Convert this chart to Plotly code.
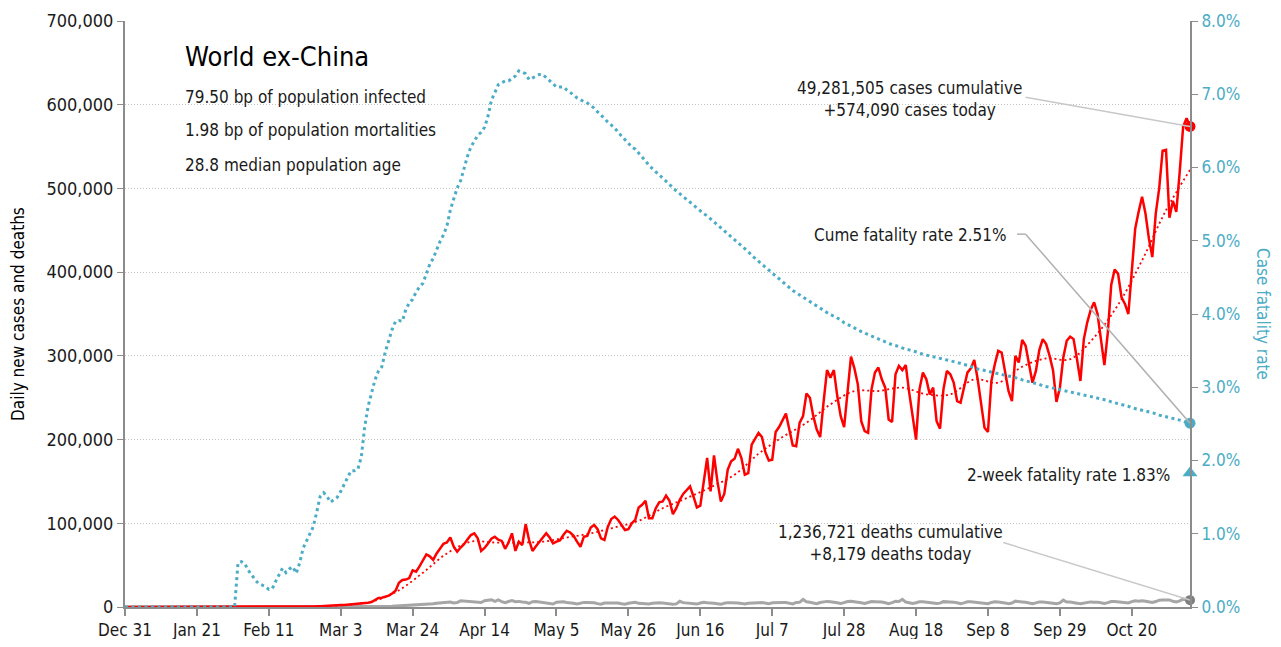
import pandas as pd
import plotly.graph_objects as go

# daily new cases, world ex-China, Dec 31 2019 .. Nov 6 2020
new_cases = [
    0, 0, 0, 0, 0, 0, 0,
    0, 0, 0, 0, 0, 0, 1,
    0, 1, 0, 1, 0, 0, 1,
    2, 1, 5, 3, 8, 10, 6,
    12, 9, 15, 18, 14, 20, 11,
    16, 19, 52, 24, 35, 40, 28,
    30, 22, 210, 45, 80, 95, 110,
    120, 160, 230, 380, 420, 610, 760,
    880, 1020, 1350, 1470, 1720, 1980, 1900,
    2300, 2400, 2750, 3700, 3900, 3950, 4050,
    4300, 5000, 5900, 8800, 10800, 11000, 11900,
    13600, 16200, 19500, 29000, 32200, 32800, 34500,
    43800, 42200, 48500, 55000, 62800, 60500, 56300,
    64000, 70500, 75500, 77000, 83000, 72000, 66000,
    71000, 75000, 80500, 86000, 88000, 82000, 67000,
    70500, 76000, 81500, 84000, 80500, 79000, 69500,
    77000, 88000, 67000, 78000, 74000, 99000, 80000,
    67000, 72500, 78000, 83500, 88000, 83000, 76000,
    78000, 79500, 86000, 91000, 89000, 85000, 78000,
    72000, 84000, 85000, 95000, 98000, 93000, 82000,
    80000, 96000, 105000, 108000, 104000, 98000, 92000,
    93000, 100000, 104000, 119000, 122000, 127000, 106000,
    106000, 118000, 125000, 126000, 133000, 127000, 111000,
    118000, 128000, 135000, 140000, 144000, 132000, 119000,
    121000, 150000, 178000, 138000, 181000, 150000, 126000,
    135000, 164000, 174000, 177000, 189000, 178000, 158000,
    160000, 194000, 201000, 208000, 203000, 185000, 175000,
    176000, 209000, 215000, 223000, 231000, 212000, 193000,
    192000, 220000, 228000, 255000, 250000, 228000, 212000,
    203000, 245000, 283000, 274000, 283000, 252000, 228000,
    215000, 262000, 299000, 285000, 266000, 222000, 210000,
    208000, 260000, 280000, 286000, 272000, 262000, 224000,
    221000, 278000, 288000, 283000, 289000, 256000, 228000,
    200000, 260000, 280000, 272000, 254000, 262000, 222000,
    213000, 260000, 282000, 278000, 268000, 246000, 244000,
    262000, 280000, 285000, 295000, 272000, 240000, 214000,
    209000, 270000, 290000, 306000, 304000, 280000, 258000,
    246000, 300000, 292000, 319000, 312000, 292000, 268000,
    282000, 307000, 320000, 314000, 300000, 283000, 245000,
    262000, 298000, 318000, 323000, 320000, 296000, 270000,
    320000, 340000, 355000, 364000, 350000, 318000, 289000,
    328000, 385000, 403000, 398000, 370000, 362000, 350000,
    400000, 452000, 472000, 490000, 470000, 440000, 418000,
    470000, 500000, 545000, 546000, 465000, 485000, 472000,
    520000, 574000, 584000, 574090,
]

new_deaths = [
    0, 0, 0, 0, 0, 0, 0,
    0, 0, 0, 0, 0, 0, 0,
    0, 0, 0, 0, 0, 0, 0,
    0, 0, 0, 0, 0, 0, 0,
    0, 0, 0, 0, 0, 1, 0,
    0, 0, 0, 0, 0, 0, 0,
    0, 0, 0, 1, 0, 0, 0,
    0, 1, 2, 2, 4, 4, 10,
    8, 12, 10, 14, 17, 20, 25,
    38, 50, 60, 75, 95, 120, 210,
    230, 300, 350, 450, 400, 550, 700,
    800, 900, 1100, 1300, 1600, 1700, 1800,
    2300, 2600, 2800, 3500, 3500, 3300, 3800,
    4500, 4900, 5500, 6100, 5900, 4900, 5300,
    7400, 6900, 7000, 6800, 6200, 5600, 5300,
    7500, 7800, 8700, 6800, 8600, 6400, 5100,
    6600, 7600, 6400, 6700, 5900, 5600, 4400,
    6300, 6500, 6000, 5300, 5100, 4800, 3600,
    5700, 6300, 6200, 5500, 5400, 4500, 3700,
    4500, 5500, 5300, 5300, 5000, 4000, 3300,
    4800, 5000, 5200, 5200, 4800, 4000, 3400,
    4400, 4800, 5600, 4400, 4000, 3000, 3500,
    4500, 5100, 5000, 4800, 4400, 3800, 3200,
    3700, 6800, 5200, 4800, 4500, 4000, 3500,
    4700, 5700, 5100, 5000, 4600, 3900, 3200,
    4400, 5200, 5000, 5200, 4800, 4300, 3500,
    4500, 5000, 5200, 5200, 5300, 4100, 3800,
    5100, 5500, 5700, 5500, 5300, 4600, 3700,
    5500, 5600, 9000, 6200, 5700, 4700, 4000,
    5400, 6300, 6700, 6200, 6000, 5000, 4100,
    5500, 6600, 6800, 6400, 6100, 5000, 4200,
    5300, 6500, 6300, 6200, 6000, 5000, 4000,
    5200, 6800, 6600, 9200, 5900, 5000, 4300,
    5000, 6200, 6400, 6200, 5700, 4900, 4200,
    4600, 6400, 6300, 6000, 5800, 5000, 4000,
    4900, 6300, 6400, 6000, 5300, 4700, 3900,
    4000, 5500, 6200, 5900, 5800, 4900, 3900,
    4700, 7000, 6200, 6100, 5600, 4600, 3800,
    4900, 6100, 6000, 5800, 5300, 4600, 3900,
    4800, 8200, 5900, 5900, 5600, 4600, 3800,
    4500, 6000, 6100, 5700, 5800, 5000, 4300,
    5200, 6600, 6600, 6200, 6000, 5300, 4800,
    6400, 7400, 7000, 7500, 6800, 5800, 5300,
    6500, 8200, 8400, 8500, 8500, 6800, 6000,
    7300, 9400, 9100, 8179,
]

# cumulative case fatality rate, %
cfr_pct = [
    0, 0, 0, 0, 0, 0, 0,
    0, 0, 0, 0, 0, 0, 0,
    0, 0, 0, 0, 0, 0, 0,
    0, 0, 0, 0, 0, 0, 0,
    0, 0, 0, 0, 0, 0.60, 0.62,
    0.59, 0.50, 0.44, 0.37, 0.32, 0.30, 0.28,
    0.24, 0.25, 0.35, 0.45, 0.53, 0.47, 0.52,
    0.55, 0.46, 0.60, 0.80, 0.90, 1.01, 1.10,
    1.30, 1.51, 1.56, 1.51, 1.43, 1.47, 1.50,
    1.58, 1.68, 1.77, 1.86, 1.86, 1.88, 2.05,
    2.46, 2.74, 2.92, 3.10, 3.22, 3.28, 3.48,
    3.65, 3.79, 3.90, 3.91, 3.90, 4.06, 4.15,
    4.20, 4.30, 4.37, 4.42, 4.55, 4.68, 4.76,
    4.88, 4.99, 5.08, 5.20, 5.42, 5.58, 5.72,
    5.82, 6.00, 6.15, 6.28, 6.36, 6.44, 6.48,
    6.55, 6.70, 6.92, 7.02, 7.13, 7.16, 7.18,
    7.18, 7.22, 7.25, 7.32, 7.30, 7.28, 7.20,
    7.22, 7.25, 7.27, 7.27, 7.23, 7.18, 7.14,
    7.10, 7.10, 7.10, 7.06, 7.03, 6.99, 6.95,
    6.92, 6.90, 6.88, 6.85, 6.81, 6.76, 6.72,
    6.67, 6.62, 6.58, 6.54, 6.48, 6.43, 6.38,
    6.32, 6.28, 6.25, 6.20, 6.15, 6.09, 6.03,
    5.98, 5.94, 5.90, 5.86, 5.82, 5.77, 5.72,
    5.68, 5.65, 5.61, 5.57, 5.53, 5.49, 5.45,
    5.41, 5.37, 5.34, 5.30, 5.25, 5.21, 5.17,
    5.13, 5.10, 5.06, 5.02, 4.98, 4.93, 4.89,
    4.85, 4.80, 4.76, 4.72, 4.68, 4.64, 4.59,
    4.55, 4.51, 4.48, 4.44, 4.40, 4.36, 4.32,
    4.29, 4.26, 4.22, 4.19, 4.16, 4.14, 4.11,
    4.07, 4.04, 4.01, 3.99, 3.97, 3.95, 3.92,
    3.88, 3.86, 3.84, 3.81, 3.78, 3.76, 3.74,
    3.72, 3.69, 3.67, 3.65, 3.64, 3.62, 3.60,
    3.58, 3.57, 3.55, 3.54, 3.52, 3.51, 3.50,
    3.48, 3.47, 3.45, 3.44, 3.43, 3.41, 3.40,
    3.39, 3.38, 3.37, 3.36, 3.35, 3.34, 3.32,
    3.31, 3.30, 3.28, 3.27, 3.25, 3.24, 3.23,
    3.22, 3.21, 3.20, 3.19, 3.18, 3.17, 3.16,
    3.15, 3.13, 3.12, 3.10, 3.09, 3.07, 3.06,
    3.05, 3.04, 3.02, 3.01, 3.00, 2.99, 2.98,
    2.97, 2.96, 2.95, 2.94, 2.93, 2.92, 2.91,
    2.89, 2.88, 2.87, 2.86, 2.85, 2.84, 2.83,
    2.82, 2.80, 2.79, 2.78, 2.76, 2.75, 2.74,
    2.72, 2.71, 2.70, 2.68, 2.67, 2.66, 2.65,
    2.64, 2.62, 2.61, 2.59, 2.58, 2.57, 2.56,
    2.55, 2.54, 2.52, 2.51,
]

# weekly readings of the dotted case trend line (Jan 3 .. Nov 6)
case_trend = [
    0, 0, 0, 0, 10, 20, 60, 250, 1100, 3000, 7500, 20000,
    41000, 64000, 78000, 77000, 77000, 78000, 83000, 88000, 95000, 103000,
    118000, 130000, 143000, 158000, 183000, 203000, 220000, 242000, 258000,
    258000, 262000, 254000, 254000, 272000, 268000, 287000, 297000, 296000,
    322000, 361000, 414000, 474000, 522000,
]

cum_cases = 49281505
cum_deaths = 1236721
two_week_cfr = 1.83
info_lines = ["79.50 bp of population infected",
              "1.98 bp of population mortalities",
              "28.8 median population age"]

dates = pd.date_range("2019-12-31", periods=len(new_cases), freq="D")
death_dates = pd.date_range("2019-12-31", periods=len(new_deaths), freq="D")
cfr_dates = pd.date_range("2019-12-31", periods=len(cfr_pct), freq="D")
trend_dates = pd.date_range("2020-01-03", periods=len(case_trend), freq="7D")
last = dates[-1]

RED = "#ff0000"
TEAL = "#4bacc6"
GREY = "#a6a6a6"
AXIS = "#8c8c8c"
TXT = "#1a1a1a"
FONT = "DejaVu Sans Condensed, Liberation Sans Narrow, sans-serif"

fig = go.Figure()

fig.add_trace(go.Scatter(x=cfr_dates, y=cfr_pct, yaxis="y2", mode="lines",
                         line=dict(color=TEAL, width=3, dash="3px,3.5px")))
fig.add_trace(go.Scatter(x=death_dates, y=new_deaths, mode="lines",
                         line=dict(color=GREY, width=3)))
fig.add_trace(go.Scatter(x=trend_dates, y=case_trend, mode="lines",
                         line=dict(color=RED, width=1.8, dash="2px,3px", shape="spline")))
fig.add_trace(go.Scatter(x=dates, y=new_cases, mode="lines",
                         line=dict(color=RED, width=2.5)))

# end markers
fig.add_trace(go.Scatter(x=[last], y=[new_cases[-1]], mode="markers", cliponaxis=False,
                         marker=dict(color=RED, size=11)))
fig.add_trace(go.Scatter(x=[death_dates[-1]], y=[new_deaths[-1]], mode="markers", cliponaxis=False,
                         marker=dict(color="#7f7f7f", size=10)))
fig.add_trace(go.Scatter(x=[cfr_dates[-1]], y=[cfr_pct[-1]], yaxis="y2", mode="markers",
                         cliponaxis=False, marker=dict(color=TEAL, size=11)))
fig.add_trace(go.Scatter(x=[cfr_dates[-1]], y=[two_week_cfr], yaxis="y2", mode="markers",
                         cliponaxis=False, marker=dict(color=TEAL, size=13, symbol="triangle-up")))

# connector lines
fig.add_shape(type="line", xref="x", yref="y", x0="2020-09-19", y0=609000,
              x1=last, y1=new_cases[-1], line=dict(color="#c8c8c8", width=1.5))
fig.add_shape(type="line", xref="x", yref="y", x0="2020-09-12 12:00", y0=77000,
              x1=death_dates[-1], y1=new_deaths[-1], line=dict(color="#c8c8c8", width=1.5))
fig.add_shape(type="line", xref="x", yref="y2", x0="2020-09-16 12:00", y0=5.09,
              x1="2020-09-19", y1=5.09, line=dict(color="#b0b0b0", width=1.5))
fig.add_shape(type="line", xref="x", yref="y2", x0="2020-09-19", y0=5.09,
              x1=cfr_dates[-1], y1=cfr_pct[-1], line=dict(color="#b0b0b0", width=1.5))

ann = []
ann.append(dict(text="World ex-China", x=0.0545, y=0.9386, xanchor="left", yanchor="middle",
                font=dict(size=27, color="black")))
for i, t in enumerate(info_lines):
    ann.append(dict(text=t, x=0.0545, y=[0.870, 0.814, 0.754][i], xanchor="left",
                    yanchor="middle", font=dict(size=17, color=TXT)))
ann.append(dict(text=f"{cum_cases:,} cases cumulative<br>+{new_cases[-1]:,} cases today",
                x=0.737, y=0.8677, xanchor="center", yanchor="middle", align="center",
                font=dict(size=17, color=TXT)))
ann.append(dict(text=f"Cume fatality rate {cfr_pct[-1]:.2f}%", x=0.830, y=0.6348,
                xanchor="right", yanchor="middle", font=dict(size=17, color=TXT)))
ann.append(dict(text=f"2-week fatality rate {two_week_cfr:.2f}%", x=0.983, y=0.2253,
                xanchor="right", yanchor="middle", font=dict(size=17, color=TXT)))
ann.append(dict(text=f"{cum_deaths:,} deaths cumulative<br>+{new_deaths[-1]:,} deaths today",
                x=0.719, y=0.1084, xanchor="center", yanchor="middle", align="center",
                font=dict(size=17, color=TXT)))
ann.append(dict(text="Daily new cases and deaths", x=-0.1005, y=0.5, textangle=-90,
                xanchor="center", yanchor="middle", font=dict(size=17, color="black")))
ann.append(dict(text="Case fatality rate", x=1.0685, y=0.5, textangle=90,
                xanchor="center", yanchor="middle", font=dict(size=17, color=TEAL)))
for a in ann:
    a.update(xref="paper", yref="paper", showarrow=False)

# the page body adds an 8px offset, so the figure is sized to sit inside the window
fig.update_layout(
    width=1265, height=631,
    margin=dict(l=117, r=83, t=13, b=32, autoexpand=False),
    paper_bgcolor="white", plot_bgcolor="white",
    font=dict(family=FONT, size=17, color=TXT),
    showlegend=False,
    annotations=ann,
    xaxis=dict(range=[dates[0], last], tick0="2019-12-31", dtick=21 * 86400000,
               tickformat="%b %-d", showgrid=False, showline=True, linecolor=AXIS,
               linewidth=2, ticks="outside", ticklen=7, tickcolor=AXIS, tickwidth=1.5,
               tickfont=dict(size=17, color=TXT)),
    yaxis=dict(range=[0, 700000], dtick=100000, tickformat=",", showgrid=True,
               gridcolor="#c4c4c4", griddash="1px,2px", gridwidth=1, zeroline=False,
               showline=True, linecolor=AXIS, linewidth=2, ticks="outside", ticklen=6,
               tickcolor=AXIS, tickfont=dict(size=18, color=TXT)),
    yaxis2=dict(range=[0, 8], dtick=1, tickformat=".1f", ticksuffix="%", overlaying="y",
                side="right", showgrid=False, zeroline=False, showline=True, linecolor=AXIS,
                linewidth=2, ticks="outside", ticklen=6, tickcolor=AXIS,
                tickfont=dict(size=17, color=TEAL)),
)

fig.write_html("out.html")
